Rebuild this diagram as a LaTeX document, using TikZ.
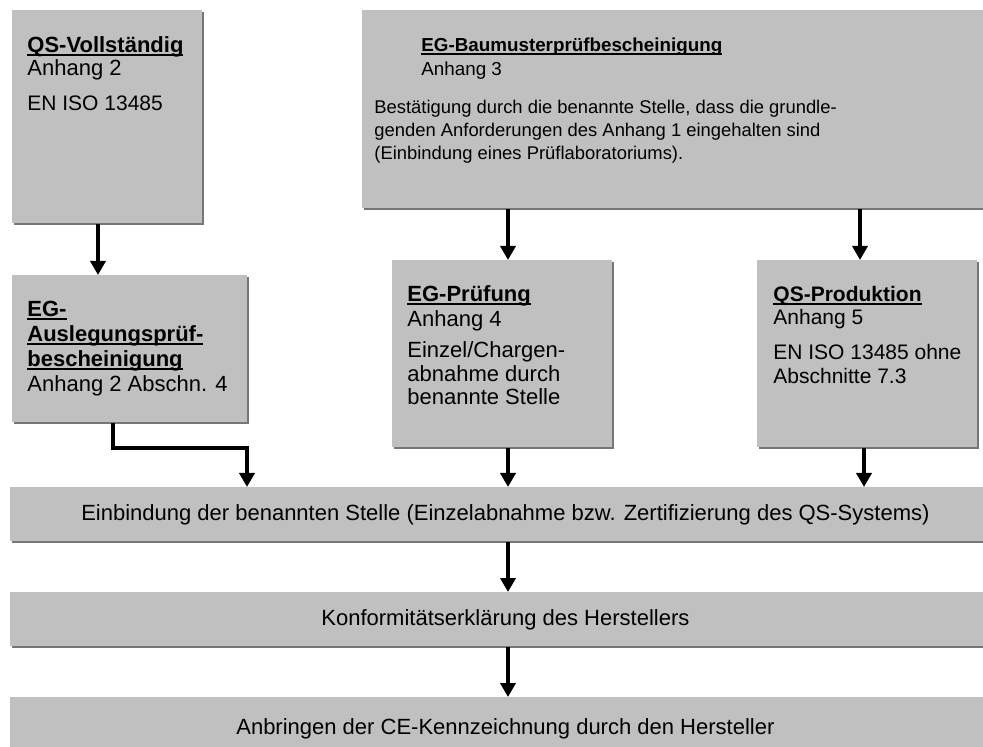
\documentclass[tikz,border=0pt]{standalone}
\usepackage{fontspec}
\setmainfont{Liberation Sans}
\usetikzlibrary{arrows.meta,shadows}

\definecolor{boxgray}{RGB}{192,192,192}
\definecolor{shadegray}{RGB}{118,118,118}

% bold heading with a heavy underline
\newcommand{\uhead}[1]{\setbox0=\hbox{\bfseries #1}\rlap{\rule[-1.4pt]{\wd0}{0.9pt}}\box0}

\tikzset{
    box/.style={fill=boxgray, anchor=north west, inner sep=0pt,
        drop shadow={shadow xshift=1pt, shadow yshift=-1pt, opacity=1, fill=shadegray}},
    txt/.style={anchor=base west, inner sep=0pt, align=left},
    arr/.style={-{Triangle[length=7pt,width=7.5pt]}, line width=1.8pt}
}

\begin{document}
\begin{tikzpicture}[x=0.5pt,y=-0.5pt]
        \clip (0,0) rectangle (983,747);
        \fill[white] (0,0) rectangle (983,747);

        % upper row (text nodes sit on the baseline of their last line)
        \node[box, minimum width=95pt, minimum height=106.5pt] (qsvoll) at (12,10) {};
        \node[box, minimum width=320pt, minimum height=99pt] (baumuster) at (362,10) {};

        \node[txt, font=\fontsize{11}{11.5}\selectfont] (qsvollhead) at (27,76) {\uhead{QS-Vollständig}\\Anhang 2};
        \node[txt, font=\fontsize{10.5}{12}\selectfont] (qsvolltxt) at (27,111) {EN ISO 13485};

        \node[txt, font=\fontsize{9.4}{12}\selectfont] (baumusterhead) at (421,76) {\uhead{EG-Baumusterprüfbescheinigung}\\Anhang 3};
        \node[txt, font=\fontsize{9.2}{11.5}\selectfont] (baumustertxt) at (374,160) {Bestätigung durch die benannte Stelle, dass die grundle-\\genden Anforderungen des Anhang 1 eingehalten sind\\(Einbindung eines Prüflaboratoriums).};

        % middle row
        \node[box, minimum width=117.5pt, minimum height=73.5pt] (ausleg) at (12,275) {};
        \node[box, minimum width=110pt, minimum height=93.5pt] (egpruef) at (392,260) {};
        \node[box, minimum width=110pt, minimum height=93.5pt] (qsprod) at (757,260) {};

        \node[txt, font=\fontsize{11}{12.5}\selectfont] (ausleghead) at (27,392) {\uhead{EG-}\\\uhead{Auslegungsprüf-}\\\uhead{bescheinigung}\\Anhang 2 Abschn. 4};

        \node[txt, font=\fontsize{11}{12.5}\selectfont] (egpruefhead) at (407,327) {\uhead{EG-Prüfung}\\Anhang 4};
        \node[txt, font=\fontsize{11}{11.75}\selectfont] (egprueftxt) at (407,405) {Einzel/Chargen-\\abnahme durch\\benannte Stelle};

        \node[txt, font=\fontsize{10.5}{11.5}\selectfont] (qsprodhead) at (773,325) {\uhead{QS-Produktion}\\Anhang 5};
        \node[txt, font=\fontsize{10.5}{12}\selectfont] (qsprodtxt) at (773,384) {EN ISO 13485 ohne\\Abschnitte 7.3};

        % bars
        \node[box, minimum width=495pt, minimum height=27pt] (einb) at (10,487) {};
        \node[box, minimum width=495pt, minimum height=27pt] (konf) at (10,592) {};
        \node[box, minimum width=495pt, minimum height=31pt] (anbr) at (10,697) {};

        \node[font=\fontsize{11}{13}\selectfont] (einbtxt) at (einb.center) {Einbindung der benannten Stelle (Einzelabnahme bzw. Zertifizierung des QS-Systems)};
        \node[font=\fontsize{11}{13}\selectfont] (konftxt) at (konf.center) {Konformitätserklärung des Herstellers};
        \node[font=\fontsize{11}{13}\selectfont] (anbrtxt) at (anbr.center) {Anbringen der CE-Kennzeichnung durch den Hersteller};

        % arrows
        \coordinate (c1) at (98,0);
        \coordinate (c2) at (508,0);
        \coordinate (c3) at (860,0);
        \coordinate (c4) at (864,0);
        \coordinate (k1) at (113,448);
        \coordinate (k2) at (247,448);

        \draw[arr] (qsvoll.south -| c1) -- (ausleg.north -| c1);
        \draw[arr] (baumuster.south -| c2) -- (egpruef.north -| c2);
        \draw[arr] (baumuster.south -| c3) -- (qsprod.north -| c3);
        \draw[arr] (ausleg.south -| k1) -- (k1) -- (k2) -- (einb.north -| k2);
        \draw[arr] (egpruef.south -| c2) -- (einb.north -| c2);
        \draw[arr] (qsprod.south -| c4) -- (einb.north -| c4);
        \draw[arr] (einb.south -| c2) -- (konf.north -| c2);
        \draw[arr] (konf.south -| c2) -- (anbr.north -| c2);
\end{tikzpicture}
\end{document}
